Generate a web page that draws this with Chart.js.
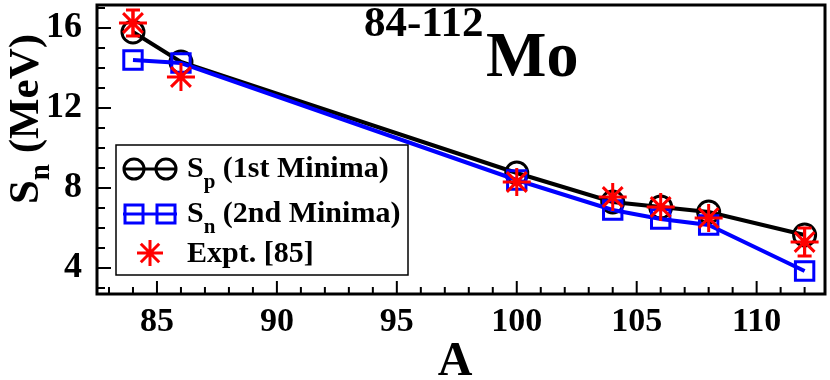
<!DOCTYPE html>
<html>
<head>
<meta charset="utf-8">
<script src="https://cdn.jsdelivr.net/npm/chart.js@4"></script>
<style>
  html, body { margin: 0; padding: 0; background: #fff; }
  #wrap { width: 830px; height: 380px; }
</style>
</head>
<body>
<div id="wrap"><canvas id="chart" width="830" height="380"></canvas></div>
<script>
// mass numbers
const massNumbers = [84, 86, 100, 104, 106, 108, 112];
// separation energies (MeV)
const sp1stMinima = [15.8, 14.3, 8.75, 7.3, 7.05, 6.8, 5.65];
const sn2ndMinima = [14.4, 14.25, 8.4, 6.9, 6.45, 6.15, 3.85];
const exptValues = [16.25, 13.55, 8.3, 7.55, 7.05, 6.5, 5.3];
const exptErrors = [0.65, 0, 0, 0, 0, 0, 0.7];

const xTicks = [85, 90, 95, 100, 105, 110];
const yTicks = [4, 8, 12, 16];

const SERIF = '"Liberation Serif", "Times New Roman", serif';

const toPoints = (vals) => vals.map((v, i) => ({ x: massNumbers[i], y: v }));

const noPad = (scale) => {
    scale.paddingTop = 0;
    scale.paddingBottom = 0;
    scale.paddingLeft = 0;
    scale.paddingRight = 0;
};

// frame, minor ticks, error bars, legend and labels
const decorations = {
    id: 'decorations',
    afterDatasetsDraw(chart) {
        const ctx = chart.ctx;
        const xs = chart.scales.x, ys = chart.scales.y;
        ctx.save();
        ctx.strokeStyle = '#ff0000';
        ctx.lineWidth = 3;
        exptValues.forEach((v, i) => {
            const e = exptErrors[i];
            if (!e) return;
            const px = xs.getPixelForValue(massNumbers[i]);
            const top = ys.getPixelForValue(v + e);
            const bot = ys.getPixelForValue(v - e);
            ctx.beginPath();
            ctx.moveTo(px, top); ctx.lineTo(px, bot);
            ctx.moveTo(px - 7, top); ctx.lineTo(px + 7, top);
            ctx.moveTo(px - 7, bot); ctx.lineTo(px + 7, bot);
            ctx.stroke();
        });
        ctx.restore();
    },
    afterDraw(chart) {
        const ctx = chart.ctx;
        const a = chart.chartArea;
        const xs = chart.scales.x, ys = chart.scales.y;
        ctx.save();

        // ticks pointing inward
        ctx.strokeStyle = '#000';
        ctx.lineWidth = 2;
        ctx.beginPath();
        for (let v = Math.ceil(xs.min); v <= xs.max; v++) {
            const px = xs.getPixelForValue(v);
            const len = xTicks.includes(v) ? 13 : 7;
            ctx.moveTo(px, a.bottom); ctx.lineTo(px, a.bottom - len);
        }
        for (let v = Math.ceil(ys.min); v <= ys.max; v++) {
            const py = ys.getPixelForValue(v);
            const len = yTicks.includes(v) ? 14 : 8;
            ctx.moveTo(a.left, py); ctx.lineTo(a.left + len, py);
        }
        ctx.stroke();

        // frame
        ctx.lineWidth = 3;
        ctx.strokeRect(a.left, a.top, a.right - a.left, a.bottom - a.top);

        // title
        ctx.fillStyle = '#000';
        ctx.textBaseline = 'alphabetic';
        ctx.textAlign = 'left';
        ctx.font = 'bold 43px ' + SERIF;
        ctx.fillText('84-112', 364, 36);
        ctx.font = 'bold 64px ' + SERIF;
        ctx.fillText('Mo', 486, 76);

        // x title
        ctx.textAlign = 'center';
        ctx.font = 'bold 48px ' + SERIF;
        ctx.fillText('A', 455, 375);

        // y title, rotated
        ctx.save();
        ctx.translate(38, 119);
        ctx.rotate(-Math.PI / 2);
        ctx.textAlign = 'left';
        ctx.font = 'bold 43px ' + SERIF;
        const sW = ctx.measureText('S').width;
        ctx.font = 'bold 29px ' + SERIF;
        const nW = ctx.measureText('n').width;
        ctx.font = 'bold 43px ' + SERIF;
        const restW = ctx.measureText(' (MeV)').width;
        let tx = -(sW + nW + restW) / 2;
        ctx.fillText('S', tx, 0);
        ctx.font = 'bold 29px ' + SERIF;
        ctx.fillText('n', tx + sW, 11);
        ctx.font = 'bold 43px ' + SERIF;
        ctx.fillText(' (MeV)', tx + sW + nW, 0);
        ctx.restore();

        // legend
        ctx.fillStyle = '#fff';
        ctx.fillRect(116, 145, 292, 130);
        ctx.lineWidth = 1.5;
        ctx.strokeStyle = '#000';
        ctx.strokeRect(116, 145, 292, 130);

        const rows = [
            { y: 169, color: '#000', style: 'circle', main: 'S', sub: 'p', rest: ' (1st Minima)' },
            { y: 214, color: '#0000ff', style: 'rect', main: 'S', sub: 'n', rest: ' (2nd Minima)' }
        ];
        rows.forEach(r => {
            ctx.strokeStyle = r.color;
            ctx.lineWidth = 3;
            ctx.beginPath();
            ctx.moveTo(123, r.y); ctx.lineTo(177, r.y);
            ctx.stroke();
            [134, 166].forEach(cx => {
                ctx.beginPath();
                if (r.style === 'circle') {
                    ctx.arc(cx, r.y, 10, 0, Math.PI * 2);
                } else {
                    ctx.rect(cx - 9, r.y - 9, 18, 18);
                }
                ctx.stroke();
            });
            ctx.fillStyle = '#000';
            ctx.textAlign = 'left';
            ctx.font = 'bold 30px ' + SERIF;
            ctx.fillText(r.main, 187, r.y + 8);
            const w1 = ctx.measureText(r.main).width;
            ctx.font = 'bold 21px ' + SERIF;
            ctx.fillText(r.sub, 187 + w1, r.y + 19);
            const w2 = ctx.measureText(r.sub).width;
            ctx.font = 'bold 30px ' + SERIF;
            ctx.fillText(r.rest, 187 + w1 + w2, r.y + 8);
        });

        // expt star
        ctx.strokeStyle = '#ff0000';
        ctx.lineWidth = 3;
        const sx = 150, sy = 253, sr = 13, d = sr * Math.SQRT1_2;
        ctx.beginPath();
        ctx.moveTo(sx - sr, sy); ctx.lineTo(sx + sr, sy);
        ctx.moveTo(sx, sy - sr); ctx.lineTo(sx, sy + sr);
        ctx.moveTo(sx - d, sy - d); ctx.lineTo(sx + d, sy + d);
        ctx.moveTo(sx - d, sy + d); ctx.lineTo(sx + d, sy - d);
        ctx.stroke();
        ctx.fillStyle = '#000';
        ctx.font = 'bold 30px ' + SERIF;
        ctx.fillText('Expt. [85]', 187, 262);

        ctx.restore();
    }
};

new Chart(document.getElementById('chart'), {
    type: 'line',
    data: {
        datasets: [
            {
                label: 'Expt. [85]',
                data: toPoints(exptValues),
                showLine: false,
                pointStyle: 'star',
                pointRadius: 14,
                pointBorderWidth: 3,
                borderColor: '#ff0000',
                backgroundColor: '#ff0000',
                order: 0
            },
            {
                label: 'Sn (2nd Minima)',
                data: toPoints(sn2ndMinima),
                borderColor: '#0000ff',
                borderWidth: 4,
                pointStyle: 'rect',
                pointRadius: 13,
                pointBorderWidth: 3,
                pointBackgroundColor: 'rgba(0,0,0,0)',
                backgroundColor: 'rgba(0,0,0,0)',
                tension: 0,
                order: 1
            },
            {
                label: 'Sp (1st Minima)',
                data: toPoints(sp1stMinima),
                borderColor: '#000',
                borderWidth: 4,
                pointStyle: 'circle',
                pointRadius: 11,
                pointBorderWidth: 3,
                pointBackgroundColor: 'rgba(0,0,0,0)',
                backgroundColor: 'rgba(0,0,0,0)',
                tension: 0,
                order: 2
            }
        ]
    },
    options: {
        responsive: false,
        animation: false,
        layout: { autoPadding: false, padding: { top: 5, right: 5, left: 0, bottom: 0 } },
        plugins: {
            legend: { display: false },
            tooltip: { enabled: false }
        },
        scales: {
            x: {
                type: 'linear',
                min: 82.5,
                max: 112.85,
                afterBuildTicks: (scale) => { scale.ticks = xTicks.map(v => ({ value: v })); },
                afterFit: (scale) => { scale.height = 86; noPad(scale); },
                grid: { display: false },
                border: { display: false },
                ticks: {
                    color: '#000',
                    padding: 0,
                    maxRotation: 0,
                    font: { family: SERIF, size: 34, weight: 'bold' }
                }
            },
            y: {
                type: 'linear',
                min: 2.7,
                max: 17.15,
                afterBuildTicks: (scale) => { scale.ticks = yTicks.map(v => ({ value: v })); },
                afterFit: (scale) => { scale.width = 97; noPad(scale); },
                grid: { display: false },
                border: { display: false },
                ticks: {
                    color: '#000',
                    padding: 7,
                    font: { family: SERIF, size: 36, weight: 'bold' }
                }
            }
        }
    },
    plugins: [decorations]
});
</script>
</body>
</html>
